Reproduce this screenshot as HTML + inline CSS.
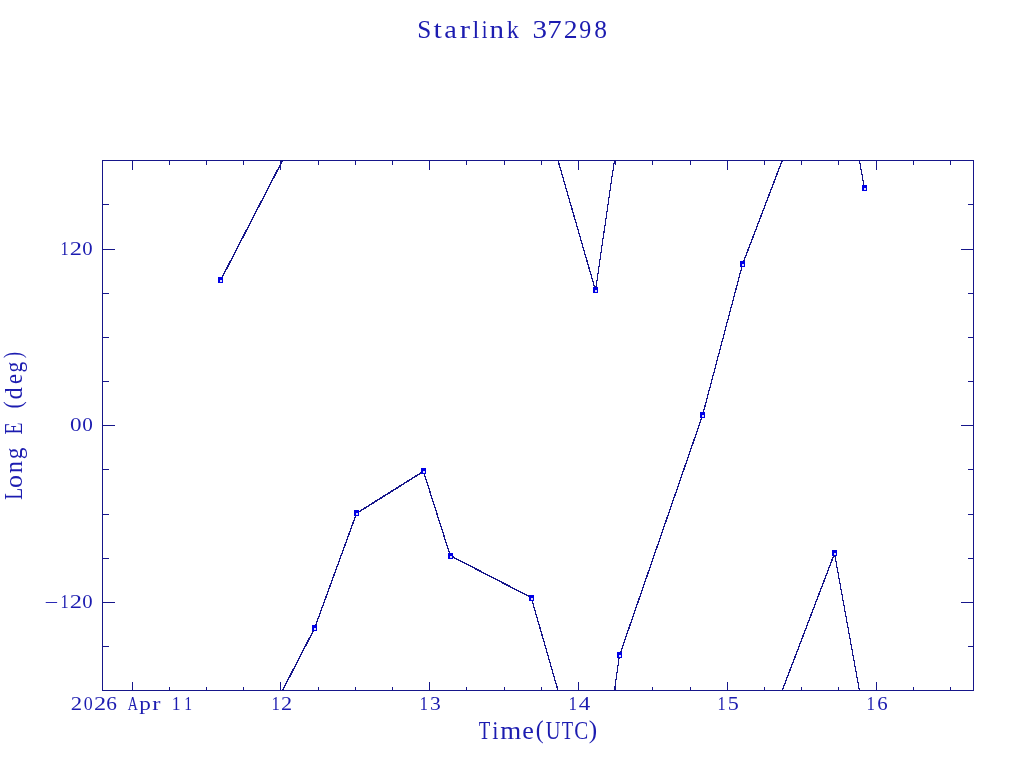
<!DOCTYPE html>
<html><head><meta charset="utf-8"><title>Starlink 37298</title>
<style>html,body{margin:0;padding:0;background:#fff;width:1024px;height:768px;overflow:hidden}svg{display:block;will-change:transform}
text{font-family:"Liberation Serif", serif;fill:#1c1cb0}</style></head>
<body><svg width="1024" height="768" viewBox="0 0 1024 768">
<rect width="1024" height="768" fill="#fff"/>
<rect x="102.5" y="160.5" width="871" height="530" fill="none" stroke="#16168a" stroke-width="1" shape-rendering="crispEdges"/>
<path d="M132.5 691 V682 M132.5 160 V170 M280.5 691 V682 M280.5 160 V170 M429.5 691 V682 M429.5 160 V170 M578.5 691 V682 M578.5 160 V170 M727.5 691 V682 M727.5 160 V170 M876.5 691 V682 M876.5 160 V170 M169.5 691 V687 M169.5 160 V165 M206.5 691 V687 M206.5 160 V165 M243.5 691 V687 M243.5 160 V165 M318.5 691 V687 M318.5 160 V165 M355.5 691 V687 M355.5 160 V165 M392.5 691 V687 M392.5 160 V165 M466.5 691 V687 M466.5 160 V165 M504.5 691 V687 M504.5 160 V165 M541.5 691 V687 M541.5 160 V165 M615.5 691 V687 M615.5 160 V165 M652.5 691 V687 M652.5 160 V165 M690.5 691 V687 M690.5 160 V165 M764.5 691 V687 M764.5 160 V165 M801.5 691 V687 M801.5 160 V165 M838.5 691 V687 M838.5 160 V165 M913.5 691 V687 M913.5 160 V165 M950.5 691 V687 M950.5 160 V165 M102 249.5 H115 M974 249.5 H961 M102 425.5 H115 M974 425.5 H961 M102 602.5 H115 M974 602.5 H961 M102 204.5 H109 M974 204.5 H968 M102 293.5 H109 M974 293.5 H968 M102 337.5 H109 M974 337.5 H968 M102 381.5 H109 M974 381.5 H968 M102 469.5 H109 M974 469.5 H968 M102 514.5 H109 M974 514.5 H968 M102 558.5 H109 M974 558.5 H968 M102 646.5 H109 M974 646.5 H968" fill="none" stroke="#16168a" stroke-width="1" shape-rendering="crispEdges"/>
<clipPath id="cb"><rect x="102" y="160" width="872" height="531"/></clipPath>
<path d="M220.50 280.00 L314.50 98.00 M220.50 281.00 L314.50 99.00 M220.50 810.00 L314.50 628.00 M220.50 811.00 L314.50 629.00 M314.50 628.00 L356.50 513.00 M314.50 629.00 L356.50 514.00 M356.50 513.00 L423.50 471.00 M357.50 513.00 L424.50 471.00 M423.50 471.00 L450.50 556.00 M423.50 472.00 L450.50 557.00 M450.50 556.00 L531.50 598.00 M451.50 556.00 L532.50 598.00 M531.50 598.00 L595.50 820.00 M531.50 599.00 L595.50 821.00 M531.50 68.00 L595.50 290.00 M531.50 69.00 L595.50 291.00 M595.50 290.00 L619.50 125.00 M595.50 291.00 L619.50 126.00 M595.50 820.00 L619.50 655.00 M595.50 821.00 L619.50 656.00 M619.50 655.00 L702.50 415.00 M619.50 656.00 L702.50 416.00 M702.50 415.00 L742.50 264.00 M702.50 416.00 L742.50 265.00 M742.50 264.00 L834.50 23.00 M742.50 265.00 L834.50 24.00 M742.50 794.00 L834.50 553.00 M742.50 795.00 L834.50 554.00 M834.50 553.00 L864.50 718.00 M834.50 554.00 L864.50 719.00 M834.50 23.00 L864.50 188.00 M834.50 24.00 L864.50 189.00" fill="none" stroke="#16168a" stroke-width="1" clip-path="url(#cb)" shape-rendering="crispEdges"/>
<rect x="218" y="277" width="5" height="6" fill="#0000e6" shape-rendering="crispEdges"/><rect x="220" y="280" width="2" height="2" fill="#fff" fill-opacity="0.85" shape-rendering="crispEdges"/>
<rect x="312" y="625" width="5" height="6" fill="#0000e6" shape-rendering="crispEdges"/><rect x="314" y="628" width="2" height="2" fill="#fff" fill-opacity="0.85" shape-rendering="crispEdges"/>
<rect x="354" y="510" width="5" height="6" fill="#0000e6" shape-rendering="crispEdges"/><rect x="356" y="513" width="2" height="2" fill="#fff" fill-opacity="0.85" shape-rendering="crispEdges"/>
<rect x="421" y="468" width="5" height="6" fill="#0000e6" shape-rendering="crispEdges"/><rect x="423" y="471" width="2" height="2" fill="#fff" fill-opacity="0.85" shape-rendering="crispEdges"/>
<rect x="448" y="553" width="5" height="6" fill="#0000e6" shape-rendering="crispEdges"/><rect x="450" y="556" width="2" height="2" fill="#fff" fill-opacity="0.85" shape-rendering="crispEdges"/>
<rect x="529" y="595" width="5" height="6" fill="#0000e6" shape-rendering="crispEdges"/><rect x="531" y="598" width="2" height="2" fill="#fff" fill-opacity="0.85" shape-rendering="crispEdges"/>
<rect x="593" y="287" width="5" height="6" fill="#0000e6" shape-rendering="crispEdges"/><rect x="595" y="290" width="2" height="2" fill="#fff" fill-opacity="0.85" shape-rendering="crispEdges"/>
<rect x="617" y="652" width="5" height="6" fill="#0000e6" shape-rendering="crispEdges"/><rect x="619" y="655" width="2" height="2" fill="#fff" fill-opacity="0.85" shape-rendering="crispEdges"/>
<rect x="700" y="412" width="5" height="6" fill="#0000e6" shape-rendering="crispEdges"/><rect x="702" y="415" width="2" height="2" fill="#fff" fill-opacity="0.85" shape-rendering="crispEdges"/>
<rect x="740" y="261" width="5" height="6" fill="#0000e6" shape-rendering="crispEdges"/><rect x="742" y="264" width="2" height="2" fill="#fff" fill-opacity="0.85" shape-rendering="crispEdges"/>
<rect x="832" y="550" width="5" height="6" fill="#0000e6" shape-rendering="crispEdges"/><rect x="834" y="553" width="2" height="2" fill="#fff" fill-opacity="0.85" shape-rendering="crispEdges"/>
<rect x="862" y="185" width="5" height="6" fill="#0000e6" shape-rendering="crispEdges"/><rect x="864" y="188" width="2" height="2" fill="#fff" fill-opacity="0.85" shape-rendering="crispEdges"/>
<text y="37.90" font-size="25.70"><tspan x="417.31" y="37.90" textLength="14.06" lengthAdjust="spacingAndGlyphs">S</tspan><tspan x="433.61" y="37.90" textLength="8.37" lengthAdjust="spacingAndGlyphs">t</tspan><tspan x="444.30" y="37.90" textLength="12.58" lengthAdjust="spacingAndGlyphs">a</tspan><tspan x="459.68" y="37.90" textLength="10.29" lengthAdjust="spacingAndGlyphs">r</tspan><tspan x="472.51" y="37.90" textLength="6.78" lengthAdjust="spacingAndGlyphs">l</tspan><tspan x="481.67" y="37.90" textLength="5.73" lengthAdjust="spacingAndGlyphs">i</tspan><tspan x="489.63" y="37.90" textLength="14.50" lengthAdjust="spacingAndGlyphs">n</tspan><tspan x="506.84" y="37.90" textLength="12.16" lengthAdjust="spacingAndGlyphs">k</tspan> <tspan x="532.51" y="37.90" textLength="14.52" lengthAdjust="spacingAndGlyphs">3</tspan><tspan x="547.20" y="37.90" textLength="14.43" lengthAdjust="spacingAndGlyphs">7</tspan><tspan x="563.68" y="37.90" textLength="13.84" lengthAdjust="spacingAndGlyphs">2</tspan><tspan x="579.23" y="37.90" textLength="11.95" lengthAdjust="spacingAndGlyphs">9</tspan><tspan x="594.23" y="37.90" textLength="12.74" lengthAdjust="spacingAndGlyphs">8</tspan></text>
<text y="254.90" font-size="19.50"><tspan x="60.48" y="254.90" textLength="8.10" lengthAdjust="spacingAndGlyphs">1</tspan><tspan x="69.83" y="254.90" textLength="12.22" lengthAdjust="spacingAndGlyphs">2</tspan><tspan x="82.21" y="254.90" textLength="10.38" lengthAdjust="spacingAndGlyphs">0</tspan></text>
<text y="430.80" font-size="19.50"><tspan x="70.02" y="430.80" textLength="11.56" lengthAdjust="spacingAndGlyphs">0</tspan><tspan x="82.19" y="430.80" textLength="10.62" lengthAdjust="spacingAndGlyphs">0</tspan></text>
<text y="607.80" font-size="19.50"><tspan x="44.48" y="609.00" textLength="13.82" lengthAdjust="spacingAndGlyphs">−</tspan><tspan x="60.48" y="607.80" textLength="8.10" lengthAdjust="spacingAndGlyphs">1</tspan><tspan x="69.83" y="607.80" textLength="12.22" lengthAdjust="spacingAndGlyphs">2</tspan><tspan x="82.21" y="607.80" textLength="10.38" lengthAdjust="spacingAndGlyphs">0</tspan></text>
<text y="709.90" font-size="19.60"><tspan x="70.80" y="709.90" textLength="11.35" lengthAdjust="spacingAndGlyphs">2</tspan><tspan x="83.72" y="709.90" textLength="8.97" lengthAdjust="spacingAndGlyphs">0</tspan><tspan x="94.14" y="709.90" textLength="12.10" lengthAdjust="spacingAndGlyphs">2</tspan><tspan x="106.28" y="709.90" textLength="10.65" lengthAdjust="spacingAndGlyphs">6</tspan> <tspan x="127.66" y="709.90" textLength="10.14" lengthAdjust="spacingAndGlyphs">A</tspan><tspan x="139.33" y="709.90" textLength="11.58" lengthAdjust="spacingAndGlyphs">p</tspan><tspan x="152.21" y="709.90" textLength="8.21" lengthAdjust="spacingAndGlyphs">r</tspan> <tspan x="171.65" y="709.90" textLength="8.81" lengthAdjust="spacingAndGlyphs">1</tspan><tspan x="184.13" y="709.90" textLength="7.81" lengthAdjust="spacingAndGlyphs">1</tspan></text>
<text y="709.90" font-size="19.60"><tspan x="271.43" y="709.90" textLength="8.38" lengthAdjust="spacingAndGlyphs">1</tspan><tspan x="281.12" y="709.90" textLength="11.10" lengthAdjust="spacingAndGlyphs">2</tspan></text>
<text y="709.90" font-size="19.60"><tspan x="419.40" y="709.90" textLength="8.52" lengthAdjust="spacingAndGlyphs">1</tspan><tspan x="430.07" y="709.90" textLength="10.77" lengthAdjust="spacingAndGlyphs">3</tspan></text>
<text y="709.90" font-size="19.60"><tspan x="568.40" y="709.90" textLength="8.52" lengthAdjust="spacingAndGlyphs">1</tspan><tspan x="578.75" y="709.90" textLength="11.51" lengthAdjust="spacingAndGlyphs">4</tspan></text>
<text y="709.90" font-size="19.60"><tspan x="717.55" y="709.90" textLength="8.24" lengthAdjust="spacingAndGlyphs">1</tspan><tspan x="727.72" y="709.90" textLength="11.05" lengthAdjust="spacingAndGlyphs">5</tspan></text>
<text y="709.90" font-size="19.60"><tspan x="866.40" y="709.90" textLength="8.52" lengthAdjust="spacingAndGlyphs">1</tspan><tspan x="877.20" y="709.90" textLength="10.42" lengthAdjust="spacingAndGlyphs">6</tspan></text>
<text y="738.80" font-size="24.30"><tspan x="478.66" y="738.80" textLength="11.56" lengthAdjust="spacingAndGlyphs">T</tspan><tspan x="492.28" y="738.80" textLength="6.25" lengthAdjust="spacingAndGlyphs">i</tspan><tspan x="500.33" y="738.80" textLength="20.99" lengthAdjust="spacingAndGlyphs">m</tspan><tspan x="522.38" y="738.80" textLength="11.63" lengthAdjust="spacingAndGlyphs">e</tspan><tspan x="535.86" y="738.00" textLength="7.91" lengthAdjust="spacingAndGlyphs">(</tspan><tspan x="545.77" y="738.80" textLength="14.76" lengthAdjust="spacingAndGlyphs">U</tspan><tspan x="561.66" y="738.80" textLength="11.34" lengthAdjust="spacingAndGlyphs">T</tspan><tspan x="574.34" y="738.80" textLength="14.02" lengthAdjust="spacingAndGlyphs">C</tspan><tspan x="588.88" y="738.00" textLength="8.43" lengthAdjust="spacingAndGlyphs">)</tspan></text>
<text y="0" font-size="24.60" transform="translate(22.00,499.30) rotate(-90)"><tspan x="-0.56" y="0.00" textLength="11.82" lengthAdjust="spacingAndGlyphs">L</tspan><tspan x="11.31" y="0.00" textLength="12.98" lengthAdjust="spacingAndGlyphs">o</tspan><tspan x="26.13" y="0.00" textLength="12.34" lengthAdjust="spacingAndGlyphs">n</tspan><tspan x="40.10" y="0.00" textLength="11.64" lengthAdjust="spacingAndGlyphs">g</tspan> <tspan x="64.93" y="0.00" textLength="12.05" lengthAdjust="spacingAndGlyphs">E</tspan> <tspan x="90.86" y="-0.90" textLength="7.13" lengthAdjust="spacingAndGlyphs">(</tspan><tspan x="99.71" y="0.00" textLength="12.29" lengthAdjust="spacingAndGlyphs">d</tspan><tspan x="115.22" y="0.00" textLength="9.95" lengthAdjust="spacingAndGlyphs">e</tspan><tspan x="126.78" y="0.00" textLength="10.73" lengthAdjust="spacingAndGlyphs">g</tspan><tspan x="140.97" y="-0.90" textLength="6.48" lengthAdjust="spacingAndGlyphs">)</tspan></text>
</svg></body></html>
